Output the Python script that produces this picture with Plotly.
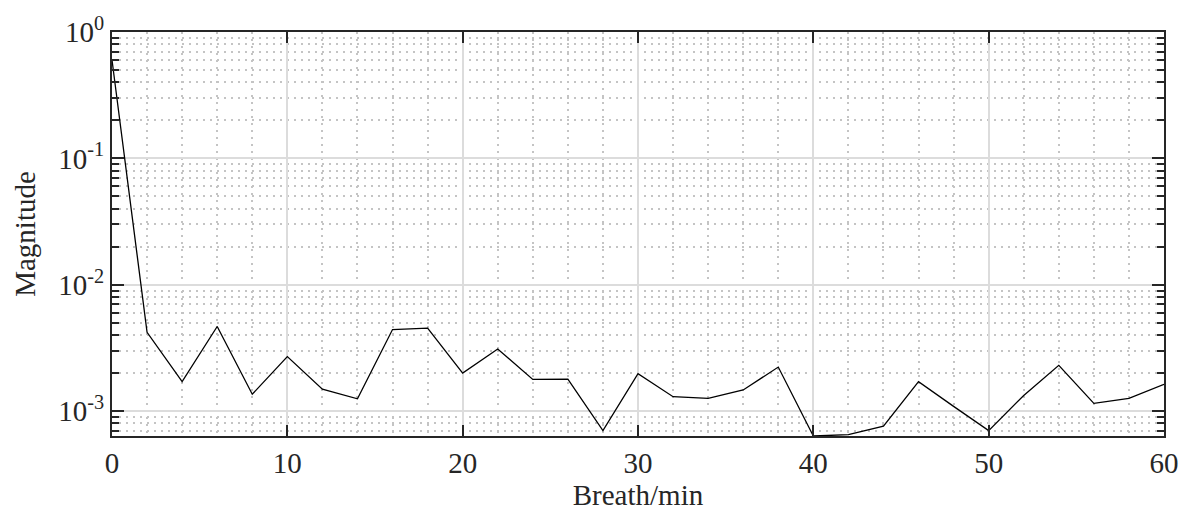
import numpy as np
import plotly.graph_objects as go

breath_per_min = [0, 2, 4, 6, 8, 10, 12, 14, 16, 18, 20, 22, 24, 26, 28, 30,
                  32, 34, 36, 38, 40, 42, 44, 46, 48, 50, 52, 54, 56, 58, 60]
magnitude = [0.6, 4.2e-3, 1.71e-3, 4.67e-3, 1.36e-3, 2.70e-3, 1.49e-3, 1.25e-3,
             4.42e-3, 4.53e-3, 2.0e-3, 3.1e-3, 1.78e-3, 1.79e-3, 7.0e-4, 1.98e-3,
             1.30e-3, 1.26e-3, 1.47e-3, 2.23e-3, 6.35e-4, 6.5e-4, 7.6e-4, 1.71e-3,
             1.09e-3, 7.0e-4, 1.33e-3, 2.30e-3, 1.15e-3, 1.26e-3, 1.63e-3]

x_ticks = [0, 10, 20, 30, 40, 50, 60]
y_ticks = [1e-3, 1e-2, 1e-1, 1e0]
y_tick_labels = ["10<sup>-3</sup>", "10<sup>-2</sup>", "10<sup>-1</sup>", "10<sup>0</sup>"]

FONT = "Liberation Serif"
AXC = "#262626"
FS = 29

fig = go.Figure()
fig.add_trace(go.Scatter(x=breath_per_min, y=magnitude, mode="lines",
                         line=dict(color="black", width=1.3), showlegend=False,
                         cliponaxis=True))

fig.update_layout(
    width=1191, height=513,
    margin=dict(l=112, r=24, t=29, b=75),
    paper_bgcolor="white", plot_bgcolor="white",
    font=dict(family=FONT, size=FS, color=AXC),
)
fig.update_xaxes(
    range=[0, 60], tickvals=x_ticks, ticks="inside", ticklen=11, tickwidth=2,
    tickcolor=AXC, showline=True, linecolor=AXC, linewidth=2, mirror="ticks",
    showgrid=True, gridcolor="#dcdcdc", gridwidth=2, zeroline=False,
    minor=dict(dtick=2, showgrid=True, gridcolor="#c4c4c4", griddash="2px,5px",
               gridwidth=1.5, ticks=""),
    title=dict(text="Breath/min", font=dict(family=FONT, size=FS), standoff=2),
    tickfont=dict(family=FONT, size=FS),
)
fig.update_yaxes(
    type="log", range=[np.log10(6.35e-4), 0], tickvals=y_ticks, ticktext=y_tick_labels,
    ticks="inside", ticklen=12, tickwidth=2, tickcolor=AXC,
    showline=True, linecolor=AXC, linewidth=2, mirror="ticks",
    showgrid=True, gridcolor="#dcdcdc", gridwidth=2, zeroline=False,
    minor=dict(dtick="D1", showgrid=True, gridcolor="#c4c4c4", griddash="2px,5px",
               gridwidth=1.5, ticks="inside", ticklen=7, tickwidth=2, tickcolor=AXC),
    title=dict(text="Magnitude", font=dict(family=FONT, size=FS), standoff=14),
    tickfont=dict(family=FONT, size=FS),
)

fig.write_html("out.html")
